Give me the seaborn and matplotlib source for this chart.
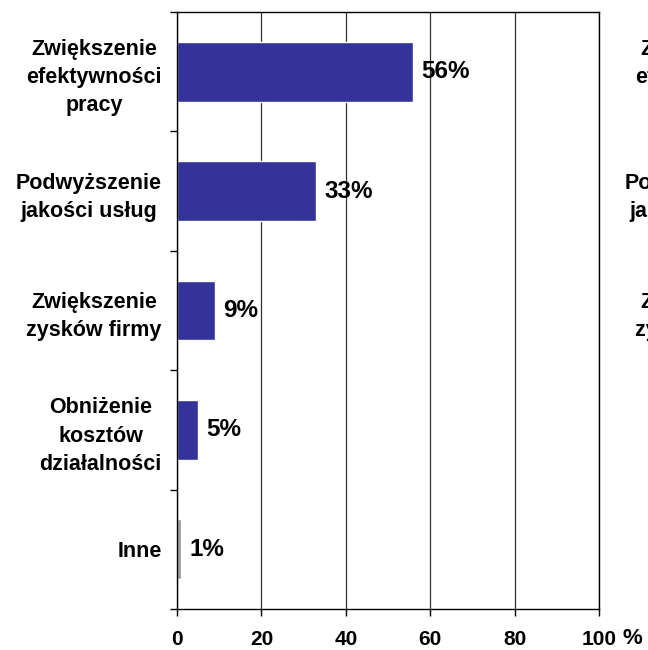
import matplotlib
matplotlib.use("Agg")
import matplotlib.pyplot as plt
import seaborn as sns

categories = ["Zwiększenie\nefektywności\npracy",
              "Podwyższenie\njakości usług",
              "Zwiększenie\nzysków firmy",
              "Obniżenie\nkosztów\ndziałalności",
              "Inne"]
values = [56, 33, 9, 5, 1]
bar_colors = ["#333399", "#333399", "#333399", "#333399", "#999999"]
x_ticks = [0, 20, 40, 60, 80, 100]

sns.set_theme(style="white")
plt.rcParams["font.family"] = ["Liberation Sans", "DejaVu Sans"]
plt.rcParams["font.weight"] = "bold"
plt.rcParams["text.color"] = "black"
plt.rcParams["xtick.color"] = "black"
plt.rcParams["ytick.color"] = "black"

fig = plt.figure(figsize=(6.48, 6.5), dpi=100)
ax = fig.add_axes([177 / 648, 41 / 650, 422 / 648, 597 / 650])

sns.barplot(x=values, y=categories, hue=categories, palette=bar_colors,
            legend=False, width=0.5, orient="h", saturation=1, ax=ax)

for cont in ax.containers:
    ax.bar_label(cont, labels=[f"{v:.0f}%" for v in cont.datavalues],
                 padding=6, fontsize=17.5, fontweight="bold", color="black")

ax.set_xlim(0, 100)
ax.set_ylim(4.5, -0.5)
ax.set_xticks(x_ticks)
ax.set_xticklabels([str(t) for t in x_ticks], fontsize=15, fontweight="bold")
ax.set_yticks(range(len(categories)))
ax.set_yticklabels(categories, fontsize=15.5, fontweight="bold",
                   multialignment="center", linespacing=1.45)
ax.set_yticks([i - 0.5 for i in range(len(categories) + 1)], minor=True)
ax.tick_params(axis="y", which="major", length=0, pad=11)
ax.tick_params(axis="y", which="minor", length=5, width=1, color="black",
               direction="out", left=True)
ax.tick_params(axis="x", which="major", length=5, width=1, color="black",
               direction="out", bottom=True, pad=10)
ax.set_xlabel("")
ax.set_ylabel("")

ax.xaxis.grid(True, color="#333333", linewidth=0.9)
ax.yaxis.grid(False)
ax.set_axisbelow(True)
for s in ax.spines.values():
    s.set_visible(True)
    s.set_color("black")
    s.set_linewidth(1)

ax.text(1.055, -0.058, "%", transform=ax.transAxes, ha="left", va="baseline",
        fontsize=16, fontweight="bold")

# neighbouring chart's labels, cut off by the figure edge
ax2 = fig.add_axes([(177 + 609) / 648, 41 / 650, 422 / 648, 597 / 650])
ax2.set_ylim(4.5, -0.5)
ax2.set_xlim(0, 100)
ax2.set_xticks([])
ax2.set_yticks(range(len(categories)))
ax2.set_yticklabels(categories, fontsize=15.5, fontweight="bold",
                    multialignment="center", linespacing=1.45)
ax2.tick_params(axis="y", length=0, pad=11)
ax2.patch.set_visible(False)
for s in ax2.spines.values():
    s.set_visible(False)

fig.savefig("out.png", dpi=100)
